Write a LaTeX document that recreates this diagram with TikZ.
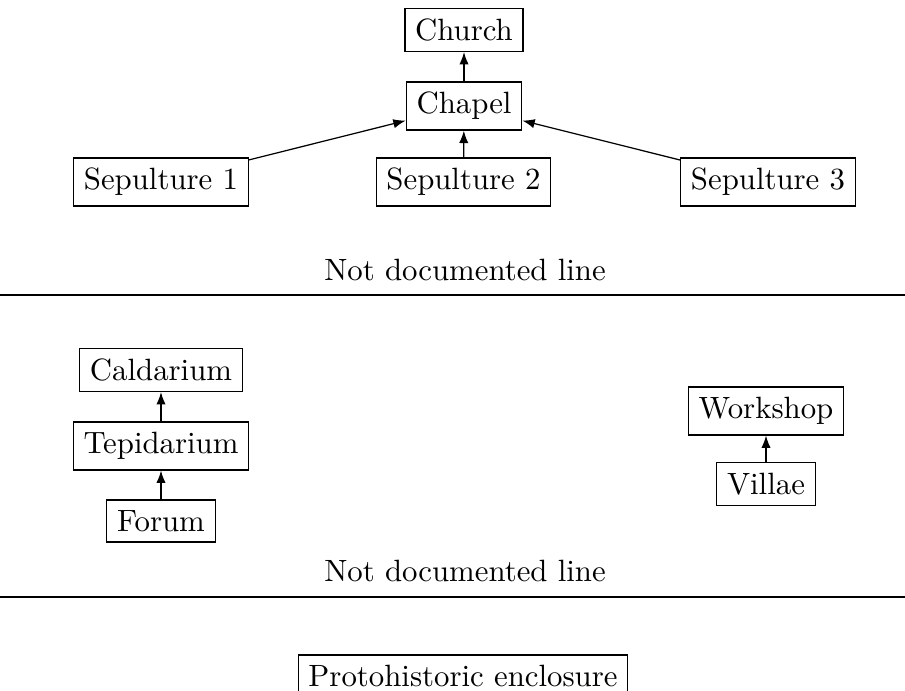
\documentclass[tikz,border=0pt]{standalone}
\usetikzlibrary{arrows.meta}
\begin{document}
\begin{tikzpicture}[x=0.3247pt,y=-0.3247pt,
  box/.style={draw,inner sep=3.33pt,line width=0.4pt},
  lbl/.style={inner sep=0pt},
  arr/.style={-{Latex[length=4pt,width=3pt]},line width=0.4pt}]
\useasboundingbox (0,0) rectangle (905,691);
\node[box] (church) at (464,30) {Church};
\node[box] (chapel) at (464,106) {Chapel};
\node[box] (sep1) at (161,182) {Sepulture 1};
\node[box] (sep2) at (463.5,182) {Sepulture 2};
\node[box] (sep3) at (768,182) {Sepulture 3};
\draw[arr] (chapel) -- (church);
\draw[arr] (sep1) -- (chapel);
\draw[arr] (sep2) -- (chapel);
\draw[arr] (sep3) -- (chapel);
\node[lbl] (t1) at (465,270) {Not documented line};
\coordinate (l1a) at (0,295);
\coordinate (l1b) at (905,295);
\draw (l1a) -- (l1b);
\node[box] (cald) at (161,370) {Caldarium};
\node[box] (tepi) at (161,446) {Tepidarium};
\node[box] (forum) at (161,521) {Forum};
\draw[arr] (tepi) -- (cald);
\draw[arr] (forum) -- (tepi);
\node[box] (work) at (766,411) {Workshop};
\node[box] (villae) at (766,484) {Villae};
\draw[arr] (villae) -- (work);
\node[lbl] (t2) at (465,571) {Not documented line};
\coordinate (l2a) at (0,597);
\coordinate (l2b) at (905,597);
\draw (l2a) -- (l2b);
\node[box] (proto) at (463,676) {Protohistoric enclosure};
\end{tikzpicture}
\end{document}
